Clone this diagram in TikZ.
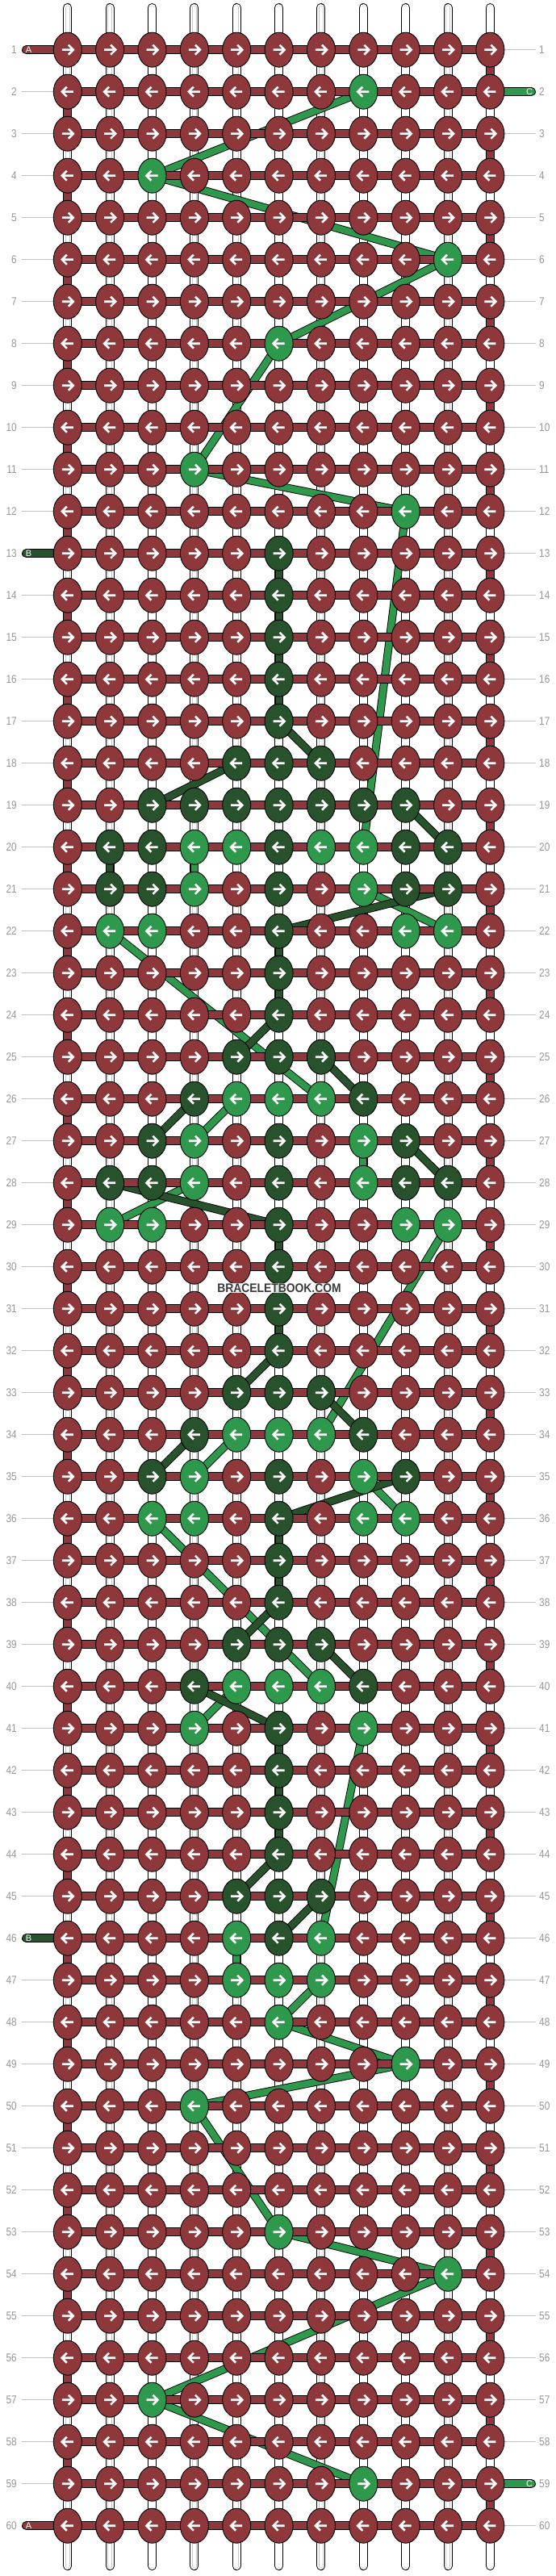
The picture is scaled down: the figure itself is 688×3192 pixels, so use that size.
\documentclass[tikz,border=0pt]{standalone}
\usepackage{fontspec}
\setmainfont{Liberation Sans}
\usepackage{xstring}
\usetikzlibrary{shapes.geometric}

\definecolor{knota}{RGB}{143,56,60}
\definecolor{knotb}{RGB}{39,82,44}
\definecolor{knotc}{RGB}{46,152,76}
\definecolor{labgray}{RGB}{150,150,150}
\definecolor{linegray}{RGB}{192,192,192}
\definecolor{markgray}{RGB}{58,58,58}

\pgfdeclarelayer{strings}
\pgfdeclarelayer{threads}
\pgfdeclarelayer{rows}
\pgfsetlayers{strings,threads,rows,main}

\tikzset{
  knot/.style={ellipse, draw=black, line width=0.9pt, minimum width=35pt, minimum height=43pt, inner sep=0pt},
  knotarrow/.style={draw=white, line width=2.6pt},
  basestring/.style={preaction={draw=black, line width=11pt, line cap=round},
    preaction={draw=white, line width=9pt, line cap=round},
    preaction={draw=black!22, line width=5.4pt, line cap=round},
    draw=white, line width=4.4pt, line cap=round},
  rowband/.style={preaction={draw=black, line width=11pt}, draw=knota, line width=9pt},
  stub/.style={preaction={draw=black, line width=11pt, line cap=round}, draw=#1, line width=9pt, line cap=round},
  bandb/.style={preaction={draw=black, line width=10pt}, draw=knotb, line width=8.2pt},
  bandc/.style={preaction={draw=black, line width=10pt}, draw=knotc, line width=8.2pt},
  rowlab/.style={text=labgray, inner sep=0pt, font=\fontsize{14}{14}\selectfont},
  rowline/.style={draw=linegray, line width=1pt},
  stublab/.style={text=white, inner sep=0pt, font=\fontsize{11}{11}\selectfont},
}

\begin{document}
\begin{tikzpicture}[x=1pt,y=1pt,yscale=-1]
\useasboundingbox (0,0) rectangle (688,3192);

% knots, row by row (a = red, b = dark green, c = light green)
\foreach \r/\pat in {1/aaaaaaaaaaa, 2/aaaaaaacaaa, 3/aaaaaaaaaaa, 4/aacaaaaaaaa, 5/aaaaaaaaaaa,
  6/aaaaaaaaaca, 7/aaaaaaaaaaa, 8/aaaaacaaaaa, 9/aaaaaaaaaaa, 10/aaaaaaaaaaa,
  11/aaacaaaaaaa, 12/aaaaaaaacaa, 13/aaaaabaaaaa, 14/aaaaabaaaaa, 15/aaaaabaaaaa,
  16/aaaaabaaaaa, 17/aaaaabaaaaa, 18/aaaabbbaaaa, 19/aabbbbbbbaa, 20/abbccbccbba,
  21/abbcabacbba, 22/accaabaacca, 23/aaaaabaaaaa, 24/aaaaabaaaaa, 25/aaaabbbaaaa,
  26/aaabcccbaaa, 27/aabcabacbaa, 28/abbcabacbba, 29/accaabaacca, 30/aaaaabaaaaa,
  31/aaaaabaaaaa, 32/aaaaabaaaaa, 33/aaaabbbaaaa, 34/aaabcccbaaa, 35/aabcabacbaa,
  36/aaccabaccaa, 37/aaaaabaaaaa, 38/aaaaabaaaaa, 39/aaaabbbaaaa, 40/aaabcccbaaa,
  41/aaacabacaaa, 42/aaaaabaaaaa, 43/aaaaabaaaaa, 44/aaaaabaaaaa, 45/aaaabbbaaaa,
  46/aaaacbcaaaa, 47/aaaacccaaaa, 48/aaaaacaaaaa, 49/aaaaaaaacaa, 50/aaacaaaaaaa,
  51/aaaaaaaaaaa, 52/aaaaaaaaaaa, 53/aaaaacaaaaa, 54/aaaaaaaaaca, 55/aaaaaaaaaaa,
  56/aaaaaaaaaaa, 57/aacaaaaaaaa, 58/aaaaaaaaaaa, 59/aaaaaaacaaa, 60/aaaaaaaaaaa}{
  \pgfmathsetmacro\y{61.7+(\r-1)*52.0}
  \foreach \c in {1,...,11}{
    \pgfmathsetmacro\x{83.8+(\c-1)*52.36}
    \StrChar{\pat}{\c}[\k]
    \edef\kcol{knot\k}
    \node[knot, fill=\kcol] (k-\r-\c) at (\x,\y) {};
    \ifodd\r\relax
      \draw[knotarrow] (k-\r-\c.center) ++(-7,0) -- ++(14,0) ++(-6,-6) -- ++(6,6) -- ++(-6,6);
    \else
      \draw[knotarrow] (k-\r-\c.center) ++(7,0) -- ++(-14,0) ++(6,-6) -- ++(-6,6) -- ++(6,6);
    \fi
  }
  % row numbers
  \node[rowlab, anchor=east] (ll-\r) at (21,\y) {\scalebox{0.85}[1]{\r}};
  \node[rowlab, anchor=west] (lr-\r) at (668,\y) {\scalebox{0.85}[1]{\r}};
  \begin{pgfonlayer}{strings}
    \draw[rowline] ([xshift=6pt]ll-\r.east) -- (k-\r-1.center);
    \draw[rowline] (k-\r-11.center) -- ([xshift=-4pt]lr-\r.west);
  \end{pgfonlayer}
  % thread A across the row
  \begin{pgfonlayer}{rows}
    \draw[rowband] (k-\r-1.center) -- (k-\r-11.center);
  \end{pgfonlayer}
}

% white base strings
\begin{pgfonlayer}{strings}
\foreach \c in {1,...,11}{
  \pgfmathsetmacro\x{83.8+(\c-1)*52.36}
  \coordinate (top-\c) at (\x,9.5);
  \coordinate (bot-\c) at (\x,3179.5);
  \draw[basestring] (top-\c) -- (bot-\c);
}
\end{pgfonlayer}

% thread A turning at the edges
\begin{pgfonlayer}{rows}
\foreach \r in {1,...,59}{
  \pgfmathtruncatemacro\rr{\r+1}
  \pgfmathtruncatemacro\e{1+10*isodd(\r)}
  \draw[rowband] (k-\r-\e.center) -- (k-\rr-\e.center);
}
% loose ends
\coordinate (end-a1) at (32.5,61.7);
\coordinate (end-a60) at (32.5,3129.7);
\coordinate (end-b13) at (32.5,685.7);
\coordinate (end-b46) at (32.5,2401.7);
\coordinate (end-c2) at (658.5,113.7);
\coordinate (end-c59) at (658.5,3077.7);
\draw[stub=knota] (end-a1) -- (k-1-1.center);
\draw[stub=knota] (end-a60) -- (k-60-1.center);
\draw[stub=knotb] (end-b13) -- (k-13-1.center);
\draw[stub=knotb] (end-b46) -- (k-46-1.center);
\draw[stub=knotc] (end-c2) -- (k-2-11.center);
\draw[stub=knotc] (end-c59) -- (k-59-11.center);
\end{pgfonlayer}

\node[stublab] (tag-a1) at (35.5,61.7) {A};
\node[stublab] (tag-a60) at (35.5,3129.7) {A};
\node[stublab] (tag-b13) at (35.5,685.7) {B};
\node[stublab] (tag-b46) at (35.5,2401.7) {B};
\node[stublab] (tag-c2) at (656,113.7) {C};
\node[stublab] (tag-c59) at (656,3077.7) {C};

% threads C and B behind the knots
\begin{pgfonlayer}{threads}
\foreach \a/\b in {2-8/4-3, 4-3/6-10, 6-10/8-6, 8-6/11-4, 11-4/12-9, 12-9/20-8, 20-4/21-4,
  21-8/22-10, 22-2/26-7, 26-5/27-4, 27-8/28-8, 28-4/29-2, 29-10/34-7, 34-5/35-4, 35-8/36-9,
  36-3/40-7, 40-5/41-4, 41-8/46-7, 46-5/47-5, 47-7/48-6, 48-6/49-9, 49-9/50-4, 50-4/53-6,
  53-6/54-10, 54-10/57-3, 57-3/59-8}
  \draw[bandc] (k-\a.center) -- (k-\b.center);
\foreach \a/\b in {13-6/14-6, 14-6/15-6, 15-6/16-6, 16-6/17-6, 17-6/18-7, 18-5/19-3, 19-9/20-10,
  20-2/21-2, 21-10/22-6, 22-6/23-6, 23-6/24-6, 24-6/25-5, 25-7/26-8, 26-4/27-3, 27-9/28-10,
  28-2/29-6, 29-6/30-6, 30-6/31-6, 31-6/32-6, 32-6/33-5, 33-7/34-8, 34-4/35-3, 35-9/36-6,
  36-6/37-6, 37-6/38-6, 38-6/39-5, 39-7/40-8, 40-4/41-6, 41-6/42-6, 42-6/43-6, 43-6/44-6,
  44-6/45-5, 45-7/46-6}
  \draw[bandb] (k-\a.center) -- (k-\b.center);
\end{pgfonlayer}

% watermark
\node[text=markgray, fill=white, fill opacity=0.85, text opacity=1, inner xsep=2pt, inner ysep=0.5pt,
  font=\fontsize{15.4}{16}\selectfont\bfseries] (brand) at (346,1596) {\scalebox{0.9}[1]{BRACELETBOOK.COM}};
\end{tikzpicture}
\end{document}
